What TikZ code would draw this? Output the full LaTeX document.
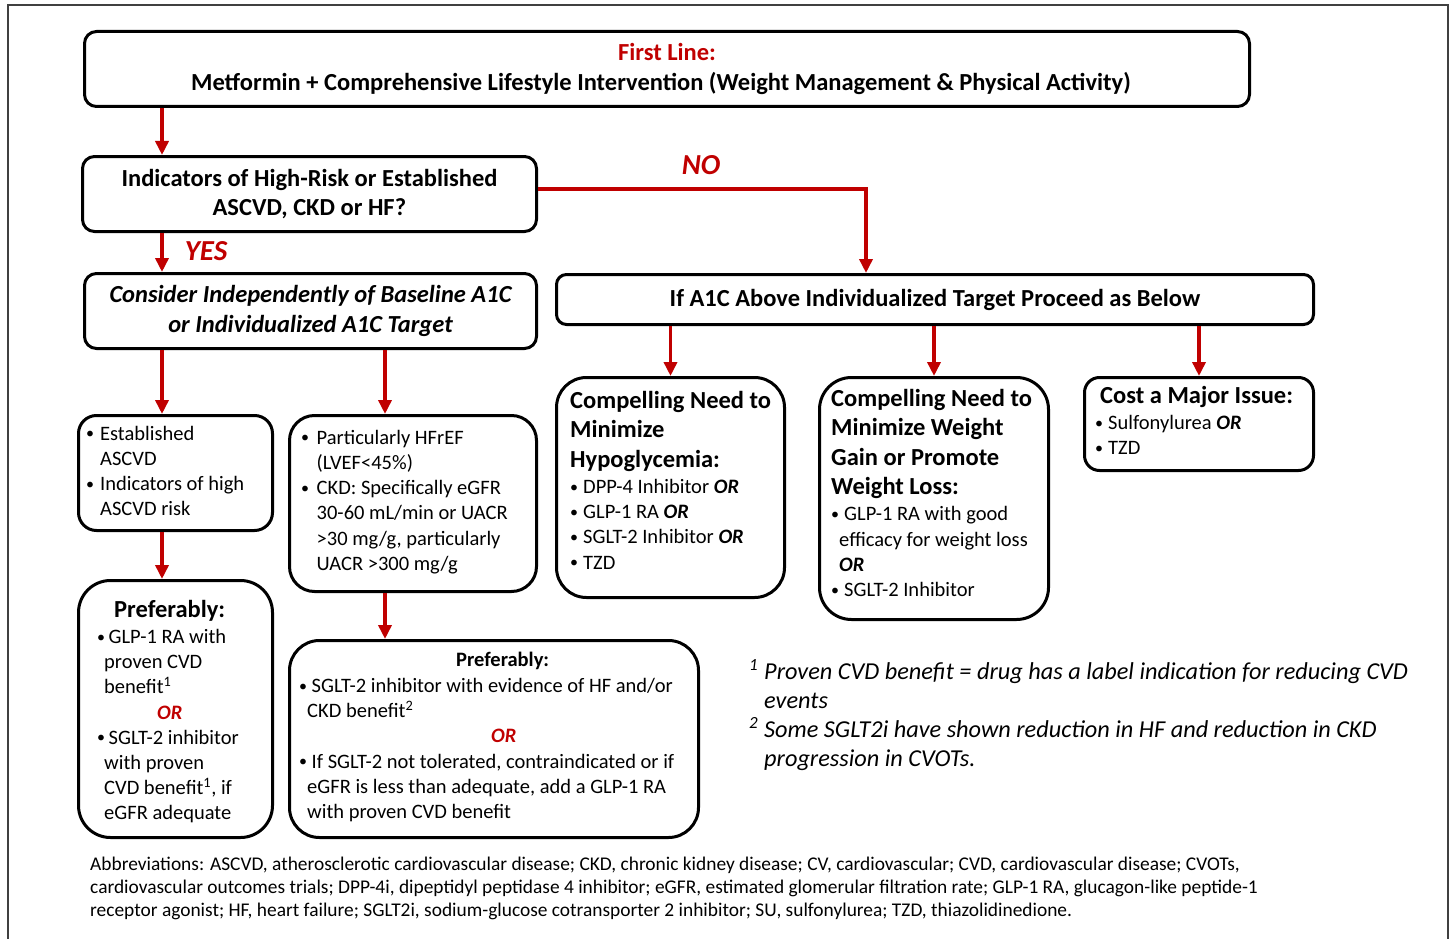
\documentclass[tikz,border=0pt]{standalone}
\usepackage{fontspec}
\usepackage{graphicx}
\setmainfont{Carlito}
\usetikzlibrary{arrows.meta,calc}
\definecolor{dred}{HTML}{C00000}
\definecolor{framegray}{HTML}{404040}
\newcommand\hdf{\fontsize{24.5pt}{29.5pt}\selectfont\bfseries}
\newcommand\bdf{\fontsize{20.5pt}{25.2pt}\selectfont\lineskiplimit=-100pt\lineskip=0pt}
\newcommand\ftf{\fontsize{24.3pt}{29.2pt}\selectfont\itshape\lineskiplimit=-100pt\lineskip=0pt}
\newcommand\abf{\fontsize{19.4pt}{23.3pt}\selectfont\lineskiplimit=-100pt\lineskip=0pt}
\newcommand\ORb{\textbf{\textit{OR}}}
\newcommand\ORr{\textcolor{dred}{\textbf{\textit{OR}}}}
\newcommand\bw[1]{\makebox[#1][l]{\raisebox{1.3pt}{\scalebox{0.78}{\textbullet}}}}
\begin{document}
\begin{tikzpicture}[x=1pt,y=-1pt,
  flowbox/.style={draw=black, line width=3pt, anchor=north west, inner sep=0pt},
  txt/.style={anchor=north west, inner sep=0pt, align=left, font=\bdf},
  arr/.style={draw=dred, line width=3.8pt, -{Triangle[width=13pt,length=14pt]}},
  lbl/.style={text=dred, inner sep=0pt, font=\fontsize{29pt}{30pt}\selectfont\bfseries\itshape}]
\useasboundingbox (0,0) rectangle (1453,939);
% frame
\draw[framegray, line width=2pt] (8,950) -- (8,5) -- (1448,5) -- (1448,950);

% boxes
\node[flowbox, rounded corners=12pt, minimum width=1165pt, minimum height=75pt, align=center, font=\hdf] (top) at (83,30)
  {\textcolor{dred}{First Line:}\\Metformin + Comprehensive Lifestyle Intervention (Weight Management \& Physical Activity)\hspace*{12pt}};
\node[flowbox, rounded corners=12pt, minimum width=454pt, minimum height=75pt, align=center, font=\hdf] (q) at (81,155)
  {Indicators of High-Risk or Established\\ASCVD, CKD or HF?};
\node[flowbox, rounded corners=12pt, minimum width=452pt, minimum height=75pt, align=center, font=\hdf\itshape] (cons) at (83,272)
  {Consider Independently of Baseline A1C\\or Individualized A1C Target};
\node[flowbox, rounded corners=10pt, minimum width=757pt, minimum height=50pt, align=center, font=\hdf] (a1c) at (555,273)
  {If A1C Above Individualized Target Proceed as Below};
\node[flowbox, rounded corners=30pt, minimum width=228pt, minimum height=220pt] (hypo) at (555,376) {};
\node[flowbox, rounded corners=32pt, minimum width=229pt, minimum height=242pt] (weight) at (818,376) {};
\node[flowbox, rounded corners=15pt, minimum width=229pt, minimum height=93pt] (cost) at (1083,376) {};
\node[flowbox, rounded corners=18pt, minimum width=194pt, minimum height=115pt] (ascvd) at (77,414) {};
\node[flowbox, rounded corners=25pt, minimum width=247pt, minimum height=176pt] (hfref) at (288,414) {};
\node[flowbox, rounded corners=32pt, minimum width=194pt, minimum height=257pt] (pref1) at (77,579) {};
\node[flowbox, rounded corners=30pt, minimum width=409pt, minimum height=197pt] (pref2) at (288,639) {};

% box texts
\node[txt] (hypoT) at (570,388) {\rule{0pt}{20pt}{\hdf Compelling Need to}\\[4.3pt]
  {\hdf Minimize}\\[4.3pt]
  {\hdf Hypoglycemia:}\\[1pt]
  \bw{13pt}DPP-4 Inhibitor \ORb\\
  \bw{13pt}GLP-1 RA \ORb\\
  \bw{13pt}SGLT-2 Inhibitor \ORb\\
  \bw{13pt}TZD};
\node[txt] (weightT) at (831,386) {\rule{0pt}{20pt}{\hdf Compelling Need to}\\[4.3pt]
  {\hdf Minimize Weight}\\[4.3pt]
  {\hdf Gain or Promote}\\[4.3pt]
  {\hdf Weight Loss:}\\[1pt]
  \bw{13pt}GLP-1 RA with good\\
  \hspace*{8pt}efficacy for weight loss\\
  \hspace*{8pt}\ORb\\
  \bw{13pt}SGLT-2 Inhibitor};
\node[txt] (costT) at (1095,383) {\rule{0pt}{20pt}\hspace*{5pt}{\hdf Cost a Major Issue:}\\[1pt]
  \bw{13pt}Sulfonylurea \ORb\\
  \bw{13pt}TZD};
\node[txt] (ascvdT) at (86,423) {\rule{0pt}{17pt}\bw{14pt}Established\\
  \hspace*{14pt}ASCVD\\
  \bw{14pt}Indicators of high\\
  \hspace*{14pt}ASCVD risk};
\node[txt] (hfrefT) at (301,427) {\rule{0pt}{17pt}\bw{15.5pt}Particularly HFrEF\\
  \hspace*{15.5pt}(LVEF<45\%)\\
  \bw{15.5pt}CKD: Specifically eGFR\\
  \hspace*{15.5pt}30-60 mL/min or UACR\\
  \hspace*{15.5pt}>30 mg/g, particularly\\
  \hspace*{15.5pt}UACR >300 mg/g};
\node[txt] (pref1T) at (97,597) {\rule{0pt}{20pt}\hspace*{17pt}{\hdf Preferably:}\\[1pt]
  \bw{11.5pt}GLP-1 RA with\\
  \hspace*{7pt}proven CVD\\
  \hspace*{7pt}benefit\textsuperscript{1}\\
  \hspace*{60pt}\ORr\\
  \bw{11.5pt}SGLT-2 inhibitor\\
  \hspace*{7pt}with proven\\
  \hspace*{7pt}CVD benefit\textsuperscript{1}, if\\
  \hspace*{7pt}eGFR adequate};
\node[txt] (pref2T) at (299,649) {\rule{0pt}{17pt}\hspace*{157pt}\textbf{Preferably:}\\[1pt]
  \bw{12.5pt}SGLT-2 inhibitor with evidence of HF and/or\\
  \hspace*{8pt}CKD benefit\textsuperscript{2}\\
  \hspace*{192pt}\ORr\\
  \bw{12.5pt}If SGLT-2 not tolerated, contraindicated or if\\
  \hspace*{8pt}eGFR is less than adequate, add a GLP-1 RA\\
  \hspace*{8pt}with proven CVD benefit};

% labels
\node[lbl] (yes) at (206,251) {YES};
\node[lbl] (no) at (701,165) {NO};

% connectors
\coordinate (xl) at (162,0);
\coordinate (xm) at (385,0);
\coordinate (xn) at (866,0);
\draw[arr] (top.south -| xl) -- (q.north -| xl);
\draw[arr] (q.south -| xl) -- (cons.north -| xl);
\draw[arr] ([yshift=5pt]q.east) -| (a1c.north -| xn);
\draw[arr] (a1c.south -| hypo.north) -- (hypo.north);
\draw[arr] (a1c.south -| weight.north) -- (weight.north);
\draw[arr] (a1c.south -| cost.north) -- (cost.north);
\draw[arr] (cons.south -| xl) -- (ascvd.north -| xl);
\draw[arr] (cons.south -| xm) -- (hfref.north -| xm);
\draw[arr] (ascvd.south -| xl) -- (pref1.north -| xl);
\draw[arr] (hfref.south -| xm) -- (pref2.north -| xm);

% footnotes
\node[txt, font=\ftf] (foot) at (749,659)
  {\rule{0pt}{19pt}\makebox[15pt][l]{\textsuperscript{1}}Proven CVD benefit = drug has a label indication for reducing CVD\\
   \hspace*{15pt}events\\
   \makebox[15pt][l]{\textsuperscript{2}}Some SGLT2i have shown reduction in HF and reduction in CKD\\
   \hspace*{15pt}progression in CVOTs.};

% abbreviations
\node[txt, font=\abf] (abbr) at (90,855)
  {\rule{0pt}{15pt}Abbreviations: ASCVD, atherosclerotic cardiovascular disease; CKD, chronic kidney disease; CV, cardiovascular; CVD, cardiovascular disease; CVOTs,\\
   cardiovascular outcomes trials; DPP-4i, dipeptidyl peptidase 4 inhibitor; eGFR, estimated glomerular filtration rate; GLP-1 RA, glucagon-like peptide-1\\
   receptor agonist; HF, heart failure; SGLT2i, sodium-glucose cotransporter 2 inhibitor; SU, sulfonylurea; TZD, thiazolidinedione.};
\end{tikzpicture}
\end{document}
